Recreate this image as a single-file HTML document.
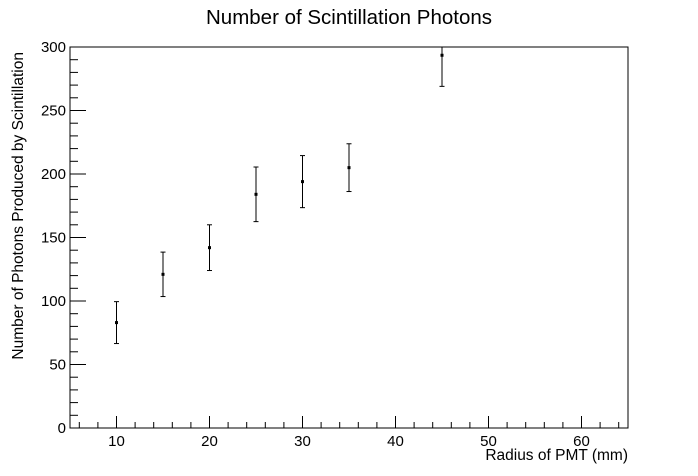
<!DOCTYPE html>
<html><head><meta charset="utf-8"><style>
body{margin:0;background:#fff;}
svg{display:block;font-family:"Liberation Sans",Arial,sans-serif;}
</style></head><body>
<svg id="chart" width="698" height="476" viewBox="0 0 698 476">
<rect width="698" height="476" fill="#fff"/>
<text x="349" y="24" text-anchor="middle" font-size="20.5">Number of Scintillation Photons</text>
<rect x="70" y="47" width="558" height="381" fill="none" stroke="#000" stroke-width="1"/>
<g id="axes"></g>
<g id="marks"></g>
<text x="628" y="460" text-anchor="end" font-size="15.5">Radius of PMT (mm)</text>
<text transform="translate(23,52) rotate(-90)" text-anchor="end" font-size="15.5">Number of Photons Produced by Scintillation</text>
</svg>
<script>
const radii=[10,15,20,25,30,35,45];
const photons=[83,121,142,184,194,205,293.5];
const errors=[16.5,17.5,18,21.5,20.5,18.8,24.5];
const xTicks=[10,20,30,40,50,60];
const yTicks=[0,50,100,150,200,250,300];
const X0=70,X1=628,Y0=428,Y1=47,xmin=5,xmax=65,ymin=0,ymax=300;
const ns="http://www.w3.org/2000/svg";
function sx(v){return X0+(v-xmin)/(xmax-xmin)*(X1-X0);}
function sy(v){return Y0-(v-ymin)/(ymax-ymin)*(Y0-Y1);}
function mk(t,a,p){const e=document.createElementNS(ns,t);for(const k in a)e.setAttribute(k,a[k]);p.appendChild(e);return e;}
const axes=document.getElementById('axes'),marks=document.getElementById('marks');
for(let v=6;v<=64;v+=2){const major=v%10===0;const x=sx(v);
 const l=mk('line',{x1:x,x2:x,y1:Y0,y2:Y0-(major?12:6),stroke:'#000'},axes);
 
 }
xTicks.forEach(v=>{const t=mk('text',{x:sx(v),y:Y0+18,'text-anchor':'middle','font-size':15},axes);t.textContent=v;
 
 });
for(let v=0;v<=300;v+=10){const major=v%50===0;const y=sy(v);
 const l=mk('line',{x1:X0,x2:X0+(major?16:8),y1:y,y2:y,stroke:'#000'},axes);
 
 }
yTicks.forEach(v=>{const t=mk('text',{x:X0-4,y:sy(v)+5,'text-anchor':'end','font-size':15},axes);t.textContent=v;
 
 });
radii.forEach((r,i)=>{const x=sx(r);const top=Math.max(sy(photons[i]+errors[i]),Y1);const bot=sy(photons[i]-errors[i]);
 const g=mk('g',{},marks);
 
 
 mk('line',{x1:x,x2:x,y1:top,y2:bot,stroke:'#000','stroke-width':1},g);
 if(sy(photons[i]+errors[i])>=Y1)mk('line',{x1:x-2.5,x2:x+2.5,y1:top,y2:top,stroke:'#000'},g);
 mk('line',{x1:x-2.5,x2:x+2.5,y1:bot,y2:bot,stroke:'#000'},g);
 mk('rect',{x:x-1.5,y:sy(photons[i])-1.5,width:3,height:3,fill:'#000'},g);});
</script>
</body></html>
